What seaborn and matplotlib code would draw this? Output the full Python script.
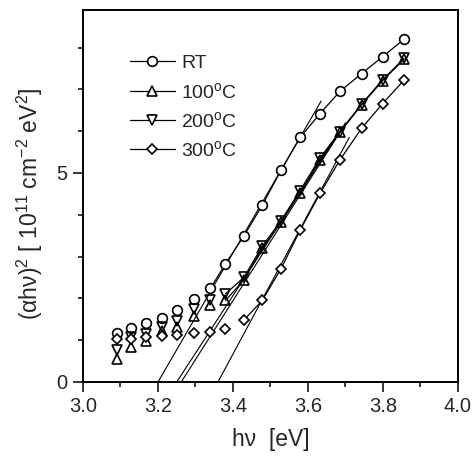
import matplotlib
matplotlib.use("Agg")
import matplotlib.pyplot as plt
import seaborn as sns
import pandas as pd
from matplotlib.lines import Line2D

# ---- data ----
energy = [3.092, 3.127, 3.168, 3.210, 3.251, 3.296, 3.340, 3.380, 3.429,
          3.478, 3.528, 3.579, 3.632, 3.685, 3.743, 3.799, 3.856]
rt = [1.16, 1.28, 1.42, 1.52, 1.72, 1.98, 2.24, 2.83, 3.49,
      4.23, 5.06, 5.85, 6.42, 6.95, 7.38, 7.78, 8.20]
t100 = [0.55, 0.84, 0.99, 1.23, 1.31, 1.59, 1.83, 1.95, 2.44,
        3.20, 3.82, 4.53, 5.31, 5.97, 6.63, 7.21, 7.72]
t200 = [0.77, 1.07, 1.15, 1.31, 1.47, 1.75, 1.95, 2.11, 2.50,
        3.25, 3.86, 4.58, 5.36, 5.99, 6.65, 7.23, 7.74]
t300 = [1.02, 1.04, 1.07, 1.11, 1.13, 1.17, 1.20, 1.27, 1.48,
        1.95, 2.71, 3.63, 4.51, 5.31, 6.07, 6.66, 7.22]
labels = ["RT", "100$^{o}$C", "200$^{o}$C", "300$^{o}$C"]
line_start = [6, 7, 7, 8]          # first point joined by the thin data line

# linear-fit (Tauc) lines: from x-intercept to end point
fit_x0 = [3.200, 3.250, 3.262, 3.360]
fit_x1 = [3.635, 3.700, 3.700, 3.710]
fit_y1 = [6.72, 6.20, 6.18, 5.85]

# ---- style ----
sns.set_style("ticks")
plt.rcParams["font.family"] = ["Liberation Sans", "DejaVu Sans"]
plt.rcParams["mathtext.fontset"] = "custom"
plt.rcParams["mathtext.rm"] = "Liberation Sans"
plt.rcParams["mathtext.it"] = "Liberation Sans:italic"
plt.rcParams["mathtext.default"] = "regular"

fig = plt.figure(figsize=(4.74, 4.68), dpi=100)
ax = fig.add_axes([0.1751, 0.1838, 0.7911, 0.7949])

series = [rt, t100, t200, t300]
markers = ["o", "^", "v", "D"]
msizes = [7, 7, 7, 5.5]
mfcs = ["white", "none", "none", "white"]

# fit lines
for i in range(4):
    df = pd.DataFrame({"x": [fit_x0[i], fit_x1[i]], "y": [0.0, fit_y1[i]]})
    sns.lineplot(data=df, x="x", y="y", color="black", lw=0.8, ax=ax,
                 sort=False, estimator=None)

# data lines (upper part) and markers
for i, ys in enumerate(series):
    s = line_start[i]
    df = pd.DataFrame({"x": energy[s:], "y": ys[s:]})
    sns.lineplot(data=df, x="x", y="y", color="black", lw=0.9, ax=ax,
                 sort=False, estimator=None)
for i, ys in enumerate(series):
    df = pd.DataFrame({"x": energy, "y": ys})
    sns.lineplot(data=df, x="x", y="y", ax=ax, sort=False, estimator=None,
                 linestyle="", marker=markers[i], markersize=msizes[i],
                 markerfacecolor=mfcs[i], markeredgecolor="black",
                 markeredgewidth=1.2, color="black")

ax.set_xlim(3.0, 4.0)
ax.set_ylim(0, 8.9)
ax.set_xticks([3.0, 3.2, 3.4, 3.6, 3.8, 4.0])
ax.set_xticks([3.1, 3.3, 3.5, 3.7, 3.9], minor=True)
ax.set_xticklabels(["3.0", "3.2", "3.4", "3.6", "3.8", "4.0"], fontsize=14.5)
ax.set_yticks([0, 5])
ax.set_yticks([1, 2, 3, 4, 6, 7, 8], minor=True)
ax.set_yticklabels(["0", "5"], fontsize=14.5)
ax.tick_params(which="major", direction="out", length=7, width=1.1,
               color="black", pad=4)
ax.tick_params(which="minor", direction="out", length=3.6, width=1.1,
               color="black")
for sp in ax.spines.values():
    sp.set_visible(True)
    sp.set_linewidth(1.4)
    sp.set_color("black")

ax.set_xlabel("hν  [eV]", fontsize=16.5)
ax.set_ylabel("(αhν)$^{2}$ [ 10$^{11}$ cm$^{-2}$ eV$^{2}$]", fontsize=16.5)
ax.xaxis.set_label_coords(0.5, -0.125)
ax.yaxis.set_label_coords(-0.10, 0.48)

handles = [Line2D([], [], color="black", lw=0.9, marker=markers[i],
                  markersize=msizes[i], markerfacecolor="white",
                  markeredgecolor="black", markeredgewidth=1.2)
           for i in range(4)]
leg = ax.legend(handles, labels, loc="upper left",
                bbox_to_anchor=(0.125, 0.88), frameon=False, fontsize=14,
                handlelength=2.3, handletextpad=0.35, labelspacing=0.48,
                borderpad=0, borderaxespad=0)

fig.savefig("out.png", dpi=100)
